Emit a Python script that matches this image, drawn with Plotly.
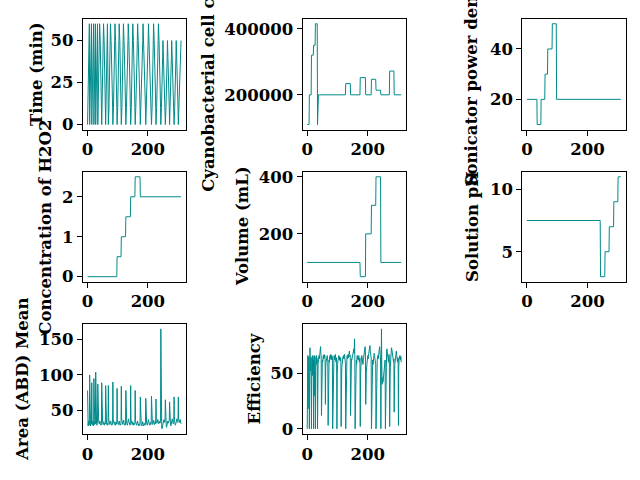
import plotly.graph_objects as go

# ---------------- data ----------------
# sampling-time sequences (minutes) recorded for each experimental run
SCHEDULES = {
    "A7": [0, 10, 20, 30, 40, 50, 60],
    "A6": [0, 10, 20, 30, 45, 60],
    "B9": [0, 10, 20, 30, 40, 50, 60, 40, 20],
    "B13": [0, 10, 20, 30, 40, 50, 60, 55, 50, 40, 30, 20, 10],
    "B14": [0, 5, 10, 20, 30, 40, 50, 60, 55, 50, 40, 30, 20, 10],
    "B15": [0, 5, 10, 20, 30, 40, 50, 60, 55, 50, 45, 40, 30, 20, 10],
    "B16": [0, 5, 10, 15, 20, 30, 40, 50, 60, 55, 50, 45, 40, 30, 20, 10],
    "B17": [0, 5, 10, 15, 20, 30, 40, 50, 60, 55, 50, 45, 40, 30, 20, 15, 10],
    "B18": [0, 5, 10, 15, 20, 25, 30, 40, 50, 60, 55, 50, 45, 40, 30, 20, 15, 10],
    "B19": [0, 5, 10, 15, 20, 25, 30, 40, 50, 60, 55, 50, 45, 40, 35, 30, 20, 15, 10],
    "C10": [0, 5, 10, 15, 20, 25, 30, 35, 40, 50],
    "C14": [0, 5, 10, 15, 20, 30, 40, 50, 45, 40, 30, 20, 15, 10],
    "C15": [0, 5, 10, 15, 20, 30, 40, 50, 45, 40, 35, 30, 20, 15, 10],
}
run_schedules = ["A7", "A7", "A7", "A6", "A7", "B13", "B13", "B9", "B15", "B14",
                 "B14", "B15", "B16", "B15", "B17", "B18", "B19", "B15", "B16",
                 "C15", "C14", "C15", "C14", "C10"]

# per-run constant conditions
sonicator_power = [20, 20, 20, 20, 20, 10, 20, 30, 40, 50, 20, 20, 20, 20, 20, 20,
                   20, 20, 20, 20, 20, 20, 20, 20]
h2o2_conc = [0, 0, 0, 0, 0, 0, 0, 0, 0, 0, 0.5, 1.0, 1.5, 2.0, 2.5, 2.0, 2.0, 2.0,
             2.0, 2.0, 2.0, 2.0, 2.0, 2.0]
volume_ml = [100, 100, 100, 100, 100, 100, 100, 100, 100, 100, 100, 100, 100, 100,
             100, 50, 200, 300, 400, 100, 100, 100, 100, 100]
solution_ph = [7.5] * 19 + [3, 5, 7, 9, 11]

# cell count as (value, number of samples) runs
cell_values = [110000, 200000, 320000, 350000, 415000, 110000, 200000, 234000,
               200000, 252000, 200000, 247000, 214000, 200000, 272000, 200000]
cell_runs = [7, 7, 7, 6, 7, 1, 92, 16, 32, 18, 19, 15, 16, 29, 15, 24]

area_runs = [
    [78, 30, 28, 35, 32, 30, 29],
    [100, 34, 30, 28, 33, 36, 31],
    [89, 33, 29, 31, 35, 30, 28],
    [95, 36, 32, 30, 34, 31],
    [104, 38, 34, 31, 29, 33, 35],
    [87, 40, 36, 34, 32, 31, 33, 35, 32, 30, 31, 29, 32],
    [89, 38, 35, 33, 31, 30, 32, 34, 31, 29, 30, 32, 31],
    [85, 36, 33, 31, 30, 32, 29, 31, 30],
    [85, 40, 36, 34, 32, 30, 31, 33, 35, 32, 30, 29, 31, 30, 32],
    [90, 38, 35, 33, 31, 30, 32, 34, 31, 29, 30, 32, 33, 31],
    [81, 37, 34, 32, 30, 31, 33, 35, 32, 30, 29, 31, 30, 32],
    [84, 39, 36, 33, 31, 30, 32, 34, 36, 33, 31, 30, 29, 31, 30],
    [78, 36, 34, 32, 30, 29, 31, 33, 35, 38, 34, 32, 30, 31, 29, 30],
    [85, 38, 35, 33, 31, 30, 32, 34, 31, 29, 30, 32, 31, 30, 32],
    [78, 36, 33, 31, 30, 29, 31, 33, 35, 32, 30, 29, 28, 30, 31, 29, 30],
    [69, 35, 33, 31, 30, 28, 30, 32, 34, 31, 29, 28, 30, 32, 31, 29, 30, 31],
    [67, 36, 34, 32, 30, 29, 31, 33, 35, 37, 34, 32, 30, 29, 31, 33, 32, 30, 31],
    [70, 35, 33, 31, 30, 32, 34, 36, 33, 31, 30, 32, 34, 33, 31],
    [66, 36, 34, 32, 33, 35, 37, 34, 32, 31, 33, 35, 34, 32, 33, 34],
    [165, 30, 26, 25, 24, 27, 29, 31, 33, 35, 37, 36, 34, 33, 35],
    [65, 34, 30, 28, 26, 29, 31, 33, 35, 34, 32, 33, 35, 36],
    [62, 35, 32, 30, 28, 30, 32, 34, 36, 38, 35, 33, 31, 33, 34],
    [69, 36, 33, 31, 29, 30, 32, 34, 36, 38, 36, 34, 33, 35],
    [69, 38, 36, 34, 33, 35, 37, 34, 32, 31],
]

efficiency_runs = [
    [0, 64, 66, 18, 63, 65, 60],
    [0, 66, 73, 60, 52, 64, 40],
    [0, 58, 65, 48, 66, 55, 62],
    [0, 60, 66, 30, 65, 58],
    [0, 55, 62, 66, 58, 64, 60],
    [0, 58, 62, 60, 64, 66, 63, 67, 69, 72, 74, 68, 66],
    [12, 50, 58, 62, 60, 64, 66, 63, 65, 67, 64, 66, 62],
    [22, 55, 60, 63, 65, 62, 66, 64, 60],
    [3, 45, 58, 62, 60, 64, 66, 63, 65, 67, 62, 64, 66, 63, 65],
    [0, 40, 55, 60, 63, 66, 64, 62, 65, 67, 63, 60, 64, 62],
    [0, 48, 58, 62, 65, 63, 66, 64, 62, 65, 63, 61, 64, 62],
    [2, 35, 55, 60, 63, 62, 65, 64, 66, 63, 65, 67, 64, 62, 60],
    [0, 42, 58, 62, 64, 66, 63, 65, 67, 64, 66, 68, 70, 67, 65, 66],
    [12, 50, 60, 63, 62, 64, 66, 65, 67, 69, 70, 72, 68, 81, 66],
    [0, 30, 52, 60, 62, 58, 64, 66, 63, 65, 62, 64, 66, 63, 60, 62, 64],
    [2, 45, 56, 60, 62, 66, 64, 62, 60, 58, 62, 64, 66, 68, 70, 72, 74, 70],
    [22, 35, 52, 58, 62, 60, 64, 66, 63, 65, 68, 70, 72, 74, 75, 70, 68, 66, 64],
    [0, 40, 56, 60, 62, 58, 60, 63, 65, 68, 66, 64, 62, 60, 58],
    [0, 28, 50, 58, 62, 64, 66, 63, 65, 68, 70, 72, 74, 70, 66, 62],
    [0, 62, 90, 58, 40, 46, 44, 42, 46, 44, 48, 52, 56, 60, 62],
    [0, 45, 60, 66, 70, 72, 68, 66, 64, 62, 60, 65, 67, 63],
    [2, 30, 55, 62, 66, 70, 73, 72, 70, 68, 66, 64, 62, 60, 63],
    [15, 48, 58, 62, 64, 66, 68, 70, 67, 65, 63, 60, 62, 64],
    [3, 55, 62, 65, 63, 66, 64, 62, 65, 60],
]

# ---------------- assemble columns ----------------
time_min, power, h2o2, vol, ph = [], [], [], [], []
for i, name in enumerate(run_schedules):
    sched = SCHEDULES[name]
    time_min += sched
    power += [sonicator_power[i]] * len(sched)
    h2o2 += [h2o2_conc[i]] * len(sched)
    vol += [volume_ml[i]] * len(sched)
    ph += [solution_ph[i]] * len(sched)
cells = []
for v, n in zip(cell_values, cell_runs):
    cells += [v] * n
area = [v for run in area_runs for v in run]
eff = [v for run in efficiency_runs for v in run]

panels = [
    (time_min, "Time (min)", [0, 25, 50]),
    (cells, "Cyanobacterial cell count", [200000, 400000]),
    (power, "Sonicator power density", [20, 40]),
    (h2o2, "Concentration of H2O2", [0, 1, 2]),
    (vol, "Volume (mL)", [200, 400]),
    (ph, "Solution pH", [5, 10]),
    (area, "Area (ABD) Mean", [50, 100, 150]),
    (eff, "Efficiency", [0, 50]),
]

W, H = 640, 480
col_px = [(82, 185), (302, 405.5), (522, 625.5)]
row_px = [(15, 128), (171, 283), (326, 438)]
label_x_px = [35, 207, 471, 45, 242, 472, 22, 254]

FONT = dict(family="DejaVu Serif", size=16.5, color="black", weight="bold")
COLOR = "#008b8b"

fig = go.Figure()
annotations = []
for k, (ys, label, ticks) in enumerate(panels):
    r, c = divmod(k, 3)
    n = len(ys)
    xs = list(range(n))
    ax = "" if k == 0 else str(k + 1)
    fig.add_trace(go.Scatter(x=xs, y=ys, mode="lines",
                             line=dict(color=COLOR, width=1),
                             xaxis="x" + ax, yaxis="y" + ax, showlegend=False))
    x0, x1 = 0, n - 1
    ylo, yhi = min(ys), max(ys)
    dx = 0.05 * (x1 - x0)
    dy = 0.05 * (yhi - ylo)
    common = dict(showline=True, mirror=True, linecolor="black", linewidth=1,
                  ticks="outside", ticklen=5, tickwidth=1, tickcolor="black",
                  showgrid=False, zeroline=False, tickfont=FONT, tickformat="d")
    fig.layout["xaxis" + ax] = dict(
        domain=[col_px[c][0] / W, col_px[c][1] / W],
        range=[x0 - dx, x1 + dx], tickvals=[0, 200], anchor="y" + ax, **common)
    fig.layout["yaxis" + ax] = dict(
        domain=[1 - row_px[r][1] / H, 1 - row_px[r][0] / H],
        range=[ylo - dy, yhi + dy], tickvals=ticks, anchor="x" + ax, **common)
    annotations.append(dict(
        text=label, textangle=-90, showarrow=False, xref="paper", yref="paper",
        x=label_x_px[k] / W, y=1 - (row_px[r][0] + row_px[r][1]) / 2 / H,
        xanchor="center", yanchor="middle", font=FONT))

fig.update_layout(width=W, height=H, margin=dict(l=0, r=0, t=0, b=0),
                  paper_bgcolor="white", plot_bgcolor="white",
                  annotations=annotations)
fig.write_html("out.html")
